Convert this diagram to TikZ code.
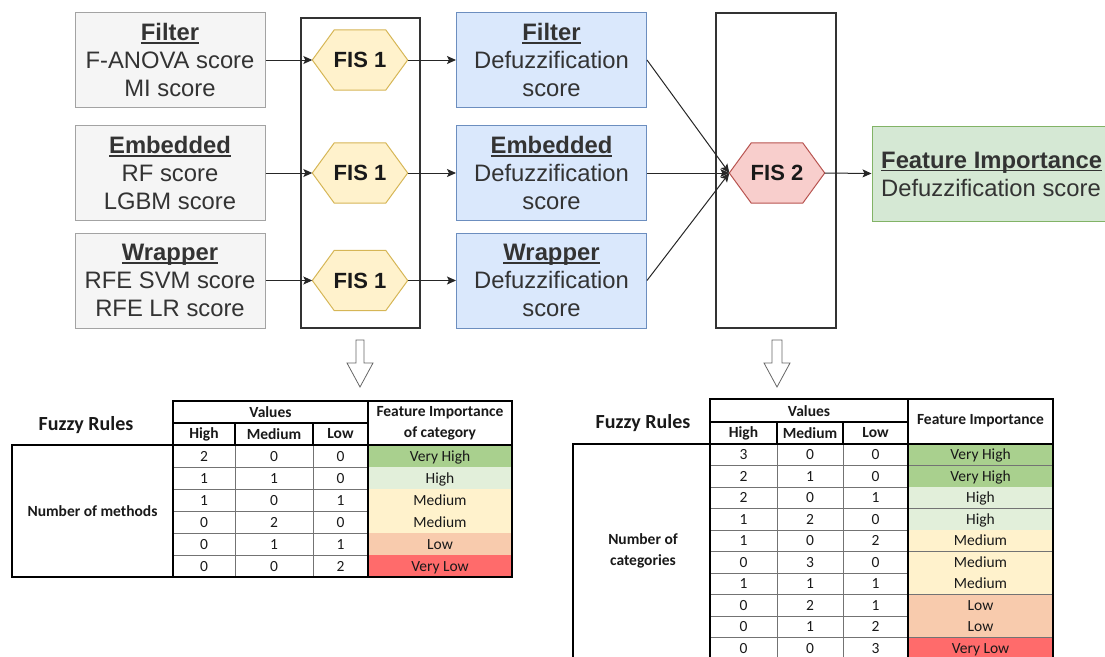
\documentclass[tikz,border=0pt]{standalone}
\usepackage{fontspec}
\setmainfont{Liberation Sans}
\newfontfamily\tabfont{Carlito}
\usetikzlibrary{arrows.meta,calc}
\definecolor{grayfill}{HTML}{F5F5F5}
\definecolor{graydraw}{HTML}{666666}
\definecolor{bluefill}{HTML}{DAE8FC}
\definecolor{bluedraw}{HTML}{6C8EBF}
\definecolor{yelfill}{HTML}{FFF2CC}
\definecolor{yeldraw}{HTML}{D6B656}
\definecolor{redfill}{HTML}{F8CECC}
\definecolor{reddraw}{HTML}{B85450}
\definecolor{grnfill}{HTML}{D5E8D4}
\definecolor{grndraw}{HTML}{82B366}
\definecolor{txt}{HTML}{333333}
\definecolor{fivh}{HTML}{A9D08E}
\definecolor{fih}{HTML}{E2EFDA}
\definecolor{fim}{HTML}{FFF2CC}
\definecolor{fil}{HTML}{F8CBAD}
\definecolor{fivl}{HTML}{FF6B6B}
\newsavebox\ulbox
\newcommand\ulb[1]{\sbox\ulbox{#1}\rlap{\rule[-3.2pt]{\wd\ulbox}{1.6pt}}\usebox\ulbox}
\newcommand\myhex[6]{%
  \node[hexnode] (#1) at (#2,#3) {};
  \draw[fill=#4, draw=#5, line width=1pt] (#1.west) -- ([xshift=22pt]#1.north west) -- ([xshift=-22pt]#1.north east) -- (#1.east) -- ([xshift=-22pt]#1.south east) -- ([xshift=22pt]#1.south west) -- cycle;
  \node[font=\fontsize{22}{26}\selectfont\bfseries, text=black!90] (#1t) at (#1) {#6};
}
\begin{document}
\begin{tikzpicture}[x=1pt,y=-1pt,
  box/.style={draw, line width=1pt, minimum width=190pt, minimum height=95pt, inner sep=0pt, align=center, font=\fontsize{23.8}{28}\selectfont, text=txt},
  graybox/.style={box, fill=grayfill, draw=graydraw!60},
  bluebox/.style={box, fill=bluefill, draw=bluedraw},
  frame/.style={draw=black!80, line width=1.2pt},
  arr/.style={-{Stealth[length=9pt,width=8pt,inset=2pt]}, line width=1pt, draw=black!85},
  hexnode/.style={minimum width=95pt, minimum height=60pt, inner sep=0pt},
  hollow/.style={fill=white, draw=black!60, line width=0.8pt, line join=miter},
  thin/.style={draw=black!55, line width=1pt},
  thick/.style={draw=black, line width=2pt},
  cell/.style={font=\tabfont\fontsize{15.5}{17}\selectfont, text=black!90, inner sep=0pt, text height=10.5pt, text depth=2.5pt},
  hcell/.style={font=\tabfont\bfseries\fontsize{15.5}{21}\selectfont, text=black!90, inner sep=0pt, align=center},
]
\useasboundingbox (0,0) rectangle (1105,656);
\clip (0,0) rectangle (1105,656);

% frames
\draw[frame] (301,18) rectangle (420,328);
\draw[frame] (716,13) rectangle (836,328);

% left boxes
\node[graybox] (g1) at (170,60) {\ulb{\textbf{Filter}}\\F-ANOVA score\\MI score};
\node[graybox] (g2) at (170,173) {\ulb{\textbf{Embedded}}\\RF score\\LGBM score};
\node[graybox] (g3) at (170,280.5) {\ulb{\textbf{Wrapper}}\\RFE SVM score\\RFE LR score};

% blue boxes
\node[bluebox] (b1) at (551.5,60) {\ulb{\textbf{Filter}}\\Defuzzification\\score};
\node[bluebox] (b2) at (551.5,173) {\ulb{\textbf{Embedded}}\\Defuzzification\\score};
\node[bluebox] (b3) at (551.5,280.5) {\ulb{\textbf{Wrapper}}\\Defuzzification\\score};

% hexagons
\myhex{h1}{360}{60}{yelfill}{yeldraw}{FIS 1}
\myhex{h2}{360}{173}{yelfill}{yeldraw}{FIS 1}
\myhex{h3}{360}{280.5}{yelfill}{yeldraw}{FIS 1}
\myhex{f2}{777}{173}{redfill}{reddraw}{FIS 2}

% green box
\node[box, fill=grnfill, draw=grndraw, minimum width=250pt] (gr) at (997,173.5) {};
\node[anchor=west, align=left, inner sep=0pt, font=\fontsize{23.8}{28}\selectfont, text=txt] (grt) at (881,174) {\ulb{\textbf{Feature Importance}}\\Defuzzification score};

% arrows
\draw[arr] (g1.east) -- (h1.west);
\draw[arr] (g2.east) -- (h2.west);
\draw[arr] (g3.east) -- (h3.west);
\draw[arr] (h1.east) -- (b1.west);
\draw[arr] (h2.east) -- (b2.west);
\draw[arr] (h3.east) -- (b3.west);
\draw[arr] (b1.east) -- (f2.west);
\draw[arr] (b2.east) -- (f2.west);
\draw[arr] (b3.east) -- (f2.west);
\draw[arr] (f2.east) -- (gr.west);

% hollow arrows
\draw[hollow] (356,340) -- (364,340) -- (364,363) -- (373,363) -- (360,387) -- (347,363) -- (356,363) -- cycle;
\draw[hollow] (772,340) -- (782,340) -- (782,363) -- (790,363) -- (777,387) -- (764,363) -- (772,363) -- cycle;

% ---------- left table ----------
\node[font=\tabfont\bfseries\fontsize{20}{24}\selectfont, text=black!90] (lfr) at (86,425) {Fuzzy Rules};
\foreach \a/\b/\c/\d/\col [count=\i] in {2/0/0/Very High/fivh, 1/1/0/High/fih, 1/0/1/Medium/fim, 0/2/0/Medium/fim, 0/1/1/Low/fil, 0/0/2/Very Low/fivl}{
  \pgfmathsetmacro\ya{445+(\i-1)*22}
  \pgfmathsetmacro\yb{445+\i*22}
  \pgfmathsetmacro\ym{445+(\i-0.5)*22+1}
  \fill[fill=\col] (368,\ya) rectangle (512,\yb);
  \draw[thin] (173,\yb) -- (512,\yb);
  \node[cell] at (204,\ym) {\a};
  \node[cell] at (274,\ym) {\b};
  \node[cell] at (340.5,\ym) {\c};
  \node[cell] at (440,\ym) {\d};
}
\draw[thin] (235,445) -- (235,577);
\draw[thin] (313,445) -- (313,577);
\draw[thick] (173,401) rectangle (512,445);
\draw[thick] (173,423) -- (368,423);
\draw[thick] (235,423) -- (235,445);
\draw[thick] (313,423) -- (313,445);
\draw[thick] (368,401) -- (368,577);
\draw[thick] (173,445) -- (173,577);
\draw[thick] (12,445) rectangle (512,577);
\node[hcell] at (270.5,412) {Values};
\node[hcell] at (204,434) {High};
\node[hcell] at (274,434) {Medium};
\node[hcell] at (340.5,434) {Low};
\node[hcell] at (440,423) {Feature Importance\\of category};
\node[hcell] (lnm) at (92.5,511) {Number of methods};

% ---------- right table ----------
\node[font=\tabfont\bfseries\fontsize{20}{24}\selectfont, text=black!90] (rfr) at (643,423) {Fuzzy Rules};
\foreach \a/\b/\c/\d/\col [count=\i] in {3/0/0/Very High/fivh, 2/1/0/Very High/fivh, 2/0/1/High/fih, 1/2/0/High/fih, 1/0/2/Medium/fim, 0/3/0/Medium/fim, 1/1/1/Medium/fim, 0/2/1/Low/fil, 0/1/2/Low/fil, 0/0/3/Very Low/fivl}{
  \pgfmathsetmacro\ya{444+(\i-1)*21.5}
  \pgfmathsetmacro\yb{444+\i*21.5}
  \pgfmathsetmacro\ym{444+(\i-0.5)*21.5+1}
  \fill[fill=\col] (908,\ya) rectangle (1053,\yb);
  \draw[thin] (710,\yb) -- (1053,\yb);
  \node[cell] at (743.5,\ym) {\a};
  \node[cell] at (810,\ym) {\b};
  \node[cell] at (875.5,\ym) {\c};
  \node[cell] at (980.5,\ym) {\d};
}
\draw[thin] (777,444) -- (777,660);
\draw[thin] (843,444) -- (843,660);
\draw[thick] (710,399) rectangle (1053,444);
\draw[thick] (710,422) -- (908,422);
\draw[thick] (777,422) -- (777,444);
\draw[thick] (843,422) -- (843,444);
\draw[thick] (908,399) -- (908,660);
\draw[thick] (710,444) -- (710,660);
\draw[thick] (573,660) -- (573,444) -- (1053,444) -- (1053,660);
\node[hcell] at (809,411) {Values};
\node[hcell] at (743.5,433) {High};
\node[hcell] at (810,433) {Medium};
\node[hcell] at (875.5,433) {Low};
\node[hcell] at (980.5,421) {Feature Importance};
\node[hcell] (rnm) at (643,551) {Number of\\categories};
\end{tikzpicture}
\end{document}
